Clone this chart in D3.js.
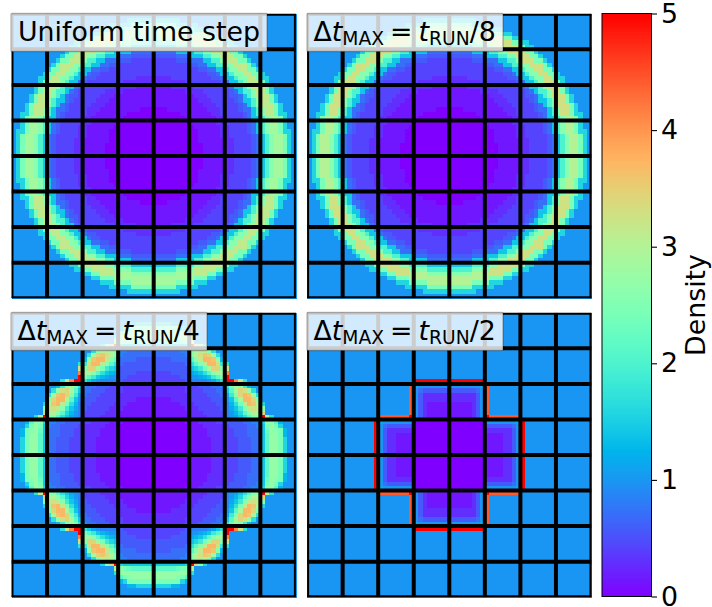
<!DOCTYPE html>
<html><head><meta charset="utf-8">
<script src="https://cdn.jsdelivr.net/npm/d3@7"></script>
<style>html,body{margin:0;padding:0;background:#fff}svg{display:block}text{font-family:"DejaVu Sans"}</style>
</head><body><svg id="c" width="712" height="607"></svg>
<script>
// One quadrant of each density map. A row runs from the centre of the
// map outward; each character is a density in sevenths, in base 36 (7 = 1.0, z = 5.0).
const uniformRows = [
"00000000000 111 11 22 33 33 4 5aeikkhb7","00000000000 111 11 22 33 33 4 5aeikkhb7","00000000000 111 11 22 33 33 4 5aeikkhb7",
"0000000000 1111 11 22 33 33 4 5aeikkhb7","0000000000 111 11 22 33 333 4 5aeikkhb7","0000000000 111 11 22 33 33 4 5aeikkhbb7",
"000000000 111 111 22 33 33 4 5aeikkhb77","00000000 1111 11 22 333 33 4 5aeikkhb77","0000000 1111 111 22 33 33 4 5 aa e i kk h b 77",
"000000 1111 111 22 333 33 4 5 a e i mm h bb 77","000 111111 111 222 33 33 4 55 a e i mm h b 777","11111111 111 222 33 333 4 5 a e i mmm h b 777",
"111111 1111 222 333 33 4 5 aa e i mm h b 7777","1111 11111 222 333 33 44 5 a e i mmm h b 7777","1111111 2222 333 333 4 5 a ee i mm h b 77777",
"1111 22222 3333 333 4 5 aa e i mmm h b 77777","2222222 3333 3333 4 5 aa e i mmm h b 777777","2222 333333 333 44 5 aa e ii mm h bb 777777",
"33333333 3333 44 5 aa e ii mm hh b 7777777","3333 333333 44 55 aa e ii mm hh b 77777777","33333333 44 55 aa ee ii mmm h b 777777777",
"33333 444 555 aa ee i mmm hh b 7777777777","44444 555 aaa ee ii mmm hh b 77777777777","55555 aaaa ee ii mmmm hh b 777777777777",
"aaaaa eeee ii mmmmm h bb 7777777777777","eeeee iiii mmmmm hh bb 77777777777777","iiiii kkkk mmm hh bb 7777777777777777",
"kkkkkkkkk hhh bb 777777777777777777","kkkkk hhhh bbb 77777777777777777777","hhhhh bbbbb 7777777777777777777777",
"bbbbbb 77777777777777777777777777","77777777777777777777777777777777"];
const eighthRows = [
"00000000000 111 11 22 33 33 4 5aeillhb7","00000000000 111 11 22 33 33 4 5aeillhb7","00000000000 111 11 22 33 33 4 5aeillhb7",
"0000000000 1111 11 22 33 33 4 5aeillhb7","0000000000 111 11 22 33 333 4 5aeillhb7","0000000000 111 11 22 33 33 4 5aeillhbb7",
"000000000 111 111 22 33 33 4 5aeillhb77","00000000 1111 11 22 333 33 4 5aeillhb77","0000000 1111 111 22 33 33 4 5 aa e i ll h b 77",
"000000 1111 111 22 333 33 4 5 a e i nn h bb 77","000 111111 111 222 33 33 4 55 a e i nn h b 777","11111111 111 222 33 333 4 5 a e i nnn h b 777",
"111111 1111 222 333 33 4 5 aa e i nn h b 7777","1111 11111 222 333 33 44 5 a e i nnn h b 7777","1111111 2222 333 333 4 5 a ee i nn h b 77777",
"1111 22222 3333 333 4 5 aa e i nnn h b 77777","2222222 3333 3333 4 5 aa e i nnn h b 777777","2222 333333 333 44 5 aa e ii nn h bb 777777",
"33333333 3333 44 5 aa e ii nn hh b 7777777","3333 333333 44 55 aa e ii nn hh b 77777777","33333333 44 55 aa ee ii nnn h b 777777777",
"33333 444 555 aa ee i nnn hh b 7777777777","44444 555 aaa ee ii nnn hh b 77777777777","55555 aaaa ee ii nnnn hh b 777777777777",
"aaaaa eeee ii nnnnn h bb 7777777777777","eeeee iiii nnnnn hh bb 77777777777777","iiiii llll nnn hh bb 7777777777777777",
"lllllllll hhh bb 777777777777777777","lllll hhhh bbb 77777777777777777777","hhhhh bbbbb 7777777777777777777777",
"bbbbbb 77777777777777777777777777","77777777777777777777777777777777"];
const quarterRows = [
"00000000 11111222 33344455 afjjhb77","00000000 11111222 33344455 afjjhb77","00000000 11111222 33344455 afjjhb77","00000000 11111222 33344455 afjjhb77",
"00000000 11112222 33444555 afjjh977","00000000 11112222 33444555 agjih977","00000000 11122222 34444556 ahjhb777","00000001 11222233 44445566 bijf9777",
"11111111 22223333 678acfii zlc77777","11111111 22233333 679bfilk o7777777","11111112 22333334 68adimnm i7777777","11111122 23333344 69chmqpl b7777777",
"11112222 33333444 7afkqqoi 77777777","22222222 33334445 8dioqpkc 77777777","22222223 33344455 afkonjc7 77777777","22222223 33444556 chkid977 77777777",
"33333334 666678ac zztnc777 77777777","33333344 7789adfh z7777777 77777777","33334444 89acfikk t7777777 77777777","44444444 abdhkooi n7777777 77777777",
"44444445 cfimqqnd c7777777 77777777","44445555 fimqqpj9 77777777 77777777","55555556 ilnpokc7 77777777 77777777","55555566 ikmlic77 77777777 77777777",
"aaaaaaab zoib7777 77777777 77777777","fffffghi l7777777 77777777 77777777","jjjjjjjj c7777777 77777777 77777777","jjjjjihf 77777777 77777777 77777777",
"hhhhhhb9 77777777 77777777 77777777","bbbb9977 77777777 77777777 77777777","77777777 77777777 77777777 77777777","77777777 77777777 77777777 77777777"];
const halfRows = [
"00000000 11112247 z7777777 77777777","00000000 11112247 z7777777 77777777","00000000 11112247 z7777777 77777777","00000000 11112247 z7777777 77777777",
"00000000 11112247 z7777777 77777777","00000000 22222247 z7777777 77777777","00000000 44444457 z7777777 77777777","00000000 77777778 z7777777 77777777",
"11111247 zvvvvvvv 77777777 77777777","11111247 v7777777 77777777 77777777","11111247 v7777777 77777777 77777777","11111247 v7777777 77777777 77777777",
"22222247 v7777777 77777777 77777777","22222247 v7777777 77777777 77777777","44444457 v7777777 77777777 77777777","77777778 v7777777 77777777 77777777",
"zzzzzzzz 77777777 77777777 77777777","77777777 77777777 77777777 77777777","77777777 77777777 77777777 77777777","77777777 77777777 77777777 77777777",
"77777777 77777777 77777777 77777777","77777777 77777777 77777777 77777777","77777777 77777777 77777777 77777777","77777777 77777777 77777777 77777777",
"77777777 77777777 77777777 77777777","77777777 77777777 77777777 77777777","77777777 77777777 77777777 77777777","77777777 77777777 77777777 77777777",
"77777777 77777777 77777777 77777777","77777777 77777777 77777777 77777777","77777777 77777777 77777777 77777777","77777777 77777777 77777777 77777777"];
const densityDomain = [0, 5];
const colorbarTicks = [0, 1, 2, 3, 4, 5];
const colorbarLabel = "Density";
const tilesPerSide = 8;
const cellsPerTile = 8;

const svg = d3.select("#c");
// matplotlib's "rainbow" colormap
const rainbow = t => {
  const c = v => Math.round(255 * Math.max(0, Math.min(1, v)));
  return `rgb(${c(Math.abs(2 * t - 0.5))},${c(Math.sin(Math.PI * t))},${c(Math.cos(Math.PI * t / 2))})`;
};
const color = d3.scaleSequential(rainbow).domain(densityDomain);
const decode = rows => rows.map(r => Array.from(r.replace(/ /g, ""), ch => parseInt(ch, 36) / 7));

const panels = [
  {rows: uniformRows, x: [11.5, 295.9], y: [13.8, 298.2], box: [11, 13.5, 256, 38], plain: "Uniform time step"},
  {rows: eighthRows,  x: [307.1, 591.5], y: [13.8, 298.2], box: [307, 13.5, 196, 38], den: "8"},
  {rows: quarterRows, x: [11.5, 295.9], y: [312.8, 597.2], box: [11, 312.5, 196, 38], den: "4"},
  {rows: halfRows,    x: [307.1, 591.5], y: [312.8, 597.2], box: [307, 312.5, 196, 38], den: "2"}
];
const n = tilesPerSide * cellsPerTile;

panels.forEach((p, k) => {
  const g = svg.append("g");
  const sx = d3.scaleLinear().domain([0, n]).range(p.x);
  const sy = d3.scaleLinear().domain([0, n]).range(p.y);
  const q = decode(p.rows);
  const cells = d3.cross(d3.range(n), d3.range(n));
  const half = n / 2;
  const dist = i => i < half ? half - 1 - i : i - half;
  g.append("g").attr("shape-rendering", "crispEdges").selectAll("rect").data(cells).join("rect")
    .attr("x", d => sx(d[0])).attr("y", d => sy(d[1]))
    .attr("width", sx(1) - sx(0) + 0.6).attr("height", sy(1) - sy(0) + 0.6)
    .attr("fill", d => color(q[dist(d[1])][dist(d[0])]));
  // tile grid, clipped to the axes
  const id = "clip" + k;
  svg.append("clipPath").attr("id", id).append("rect")
    .attr("x", p.x[0]).attr("y", p.y[0]).attr("width", p.x[1] - p.x[0]).attr("height", p.y[1] - p.y[0]);
  const grid = g.append("g").attr("clip-path", `url(#${id})`).attr("stroke", "#000").attr("stroke-width", 4);
  const ticks = d3.range(0, n + 1, cellsPerTile);
  grid.selectAll("line.v").data(ticks).join("line").attr("class", "v")
    .attr("x1", d => sx(d)).attr("x2", d => sx(d)).attr("y1", p.y[0]).attr("y2", p.y[1]);
  grid.selectAll("line.h").data(ticks).join("line").attr("class", "h")
    .attr("y1", d => sy(d)).attr("y2", d => sy(d)).attr("x1", p.x[0]).attr("x2", p.x[1]);
  // label box
  const [bx, by, bw, bh] = p.box;
  g.append("rect").attr("x", bx).attr("y", by).attr("width", bw).attr("height", bh).attr("rx", 1)
    .attr("fill", "#fff").attr("fill-opacity", 0.8).attr("stroke", "#000").attr("stroke-opacity", 0.25).attr("stroke-width", 1.4);
  const t = g.append("text").attr("x", bx + (p.plain ? 7 : 6.5)).attr("y", by + 27).attr("font-size", 26.8).attr("fill", "#000");
  if (p.plain) t.text(p.plain);
  else {
    t.append("tspan").text("Δ");
    t.append("tspan").attr("font-style", "italic").text("t");
    t.append("tspan").attr("font-size", 18.7).attr("dy", 4.5).text("MAX");
    t.append("tspan").attr("dy", -4.5).attr("dx", 6).text("=");
    t.append("tspan").attr("dx", 6).attr("font-style", "italic").text("t");
    t.append("tspan").attr("font-size", 18.7).attr("dy", 4.5).text("RUN");
    t.append("tspan").attr("dy", -4.5).text("/" + p.den);
  }
});

// colour bar
const cbX = [602, 651.5], cbY = d3.scaleLinear().domain(densityDomain).range([596.5, 13.5]);
const steps = d3.range(0, 256).map(i => densityDomain[0] + (i / 256) * (densityDomain[1] - densityDomain[0]));
const dv = (densityDomain[1] - densityDomain[0]) / 256;
svg.append("g").attr("shape-rendering", "crispEdges").selectAll("rect").data(steps).join("rect")
  .attr("x", cbX[0]).attr("width", cbX[1] - cbX[0])
  .attr("y", d => cbY(d + dv)).attr("height", d => cbY(d) - cbY(d + dv) + 0.7)
  .attr("fill", d => color(d + dv / 2));
svg.append("rect").attr("x", cbX[0]).attr("y", cbY(5)).attr("width", cbX[1] - cbX[0]).attr("height", cbY(0) - cbY(5))
  .attr("fill", "none").attr("stroke", "#000").attr("stroke-width", 1);
const axis = svg.append("g").attr("transform", `translate(${cbX[1]},0)`)
  .call(d3.axisRight(cbY).tickValues(colorbarTicks).tickFormat(d3.format("d")).tickSize(5.5).tickPadding(4));
axis.select(".domain").remove();
axis.selectAll("line").attr("stroke", "#000").attr("stroke-width", 1.1);
axis.selectAll("text").attr("font-size", 26.8).attr("font-family", "DejaVu Sans").attr("fill", "#000");
svg.append("text").attr("transform", "translate(705,305) rotate(-90)").attr("text-anchor", "middle")
  .attr("font-size", 26.8).attr("fill", "#000").text(colorbarLabel);
</script></body></html>
